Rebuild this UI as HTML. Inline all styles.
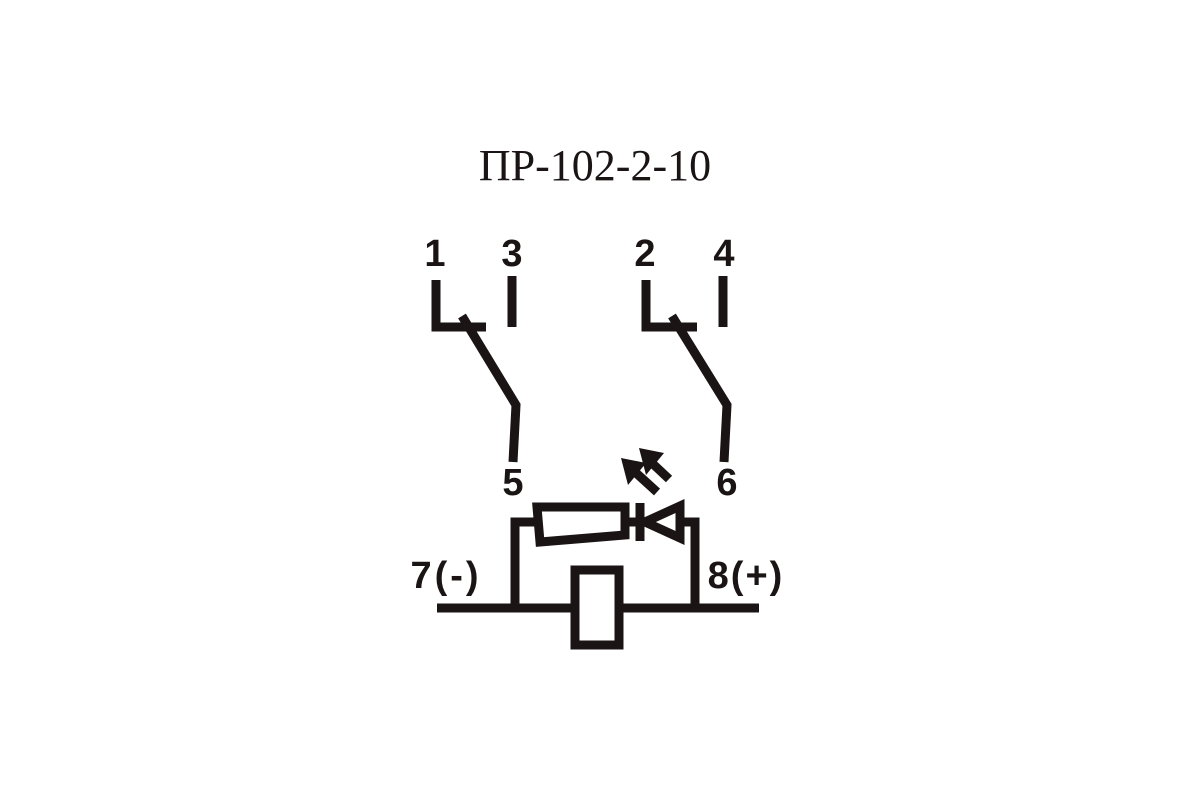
<!DOCTYPE html>
<html><head><style>
body{margin:0;background:#fff;width:1200px;height:800px;overflow:hidden}
</style></head><body>
<svg width="1200" height="800" xmlns="http://www.w3.org/2000/svg">
<text x="595" y="180" font-family="Liberation Serif" font-size="44" text-anchor="middle" fill="#1a1414">ПР-102-2-10</text>
<g font-family="Liberation Sans" font-weight="bold" font-size="38" fill="#1a1414" text-anchor="middle">
<text x="435" y="266">1</text><text x="512" y="266">3</text>
<text x="645" y="266">2</text><text x="724" y="266">4</text>
<text x="513" y="495">5</text><text x="727" y="495">6</text>
<text x="446" y="588" letter-spacing="3">7(-)</text><text x="746" y="588" letter-spacing="2">8(+)</text>
</g>
<g stroke="#1a1414" stroke-width="9" fill="none" stroke-linejoin="miter">
<polyline points="436,280 436,327 486,327"/>
<line x1="512" y1="276" x2="512" y2="327"/>
<polyline points="462,316 516,405 513,462"/>
<polyline points="646,280 646,327 697,327"/>
<line x1="723" y1="276" x2="723" y2="327"/>
<polyline points="672,316 727,405 724,462"/>
<line x1="437" y1="608" x2="759" y2="608"/>
<polyline points="515,608 515,522 537,522"/>
<polygon points="537,507 625,507 625,535 540,542"/>
<line x1="625" y1="522" x2="640" y2="522"/>
<line x1="640" y1="503" x2="640" y2="541"/>
<polygon points="645,522 680,506 680,538"/>
<polyline points="680,522 695,522 695,608"/>
<rect x="575" y="570" width="44" height="75" fill="#fff"/>
<line x1="657" y1="492" x2="635" y2="472"/>
<line x1="669" y1="479" x2="653" y2="464"/>
</g>
<g fill="#1a1414">
<polygon points="621,458 646,463 628,485"/>
<polygon points="639,448 664,453 646,475"/>
</g>
</svg>
</body></html>
